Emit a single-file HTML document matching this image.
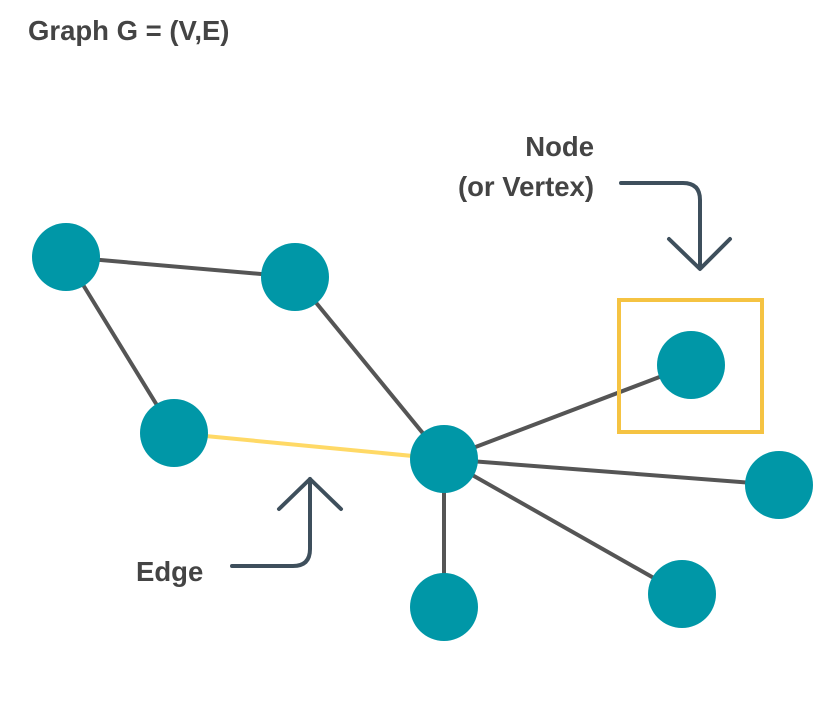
<!DOCTYPE html>
<html><head><style>body{margin:0;background:#fff}</style></head><body>
<svg width="838" height="720" viewBox="0 0 838 720" xmlns="http://www.w3.org/2000/svg" font-family="Liberation Sans, sans-serif">
<rect width="838" height="720" fill="#fff"/>
<text x="28" y="40" font-size="27.5" font-weight="bold" fill="#444">Graph G = (V,E)</text>
<text x="594" y="156" font-size="27.5" font-weight="bold" fill="#444" text-anchor="end">Node</text>
<text x="594" y="196" font-size="27.5" font-weight="bold" fill="#444" text-anchor="end">(or Vertex)</text>
<text x="136" y="581" font-size="27.5" font-weight="bold" fill="#444">Edge</text>
<g stroke="#555" stroke-width="4" fill="none">
<line x1="66" y1="257" x2="295" y2="277"/>
<line x1="66" y1="257" x2="174" y2="433"/>
<line x1="295" y1="277" x2="444" y2="459"/>
<line x1="444" y1="459" x2="691" y2="365"/>
<line x1="444" y1="459" x2="779" y2="485"/>
<line x1="444" y1="459" x2="682" y2="594"/>
<line x1="444" y1="459" x2="444" y2="607"/>
</g>
<line x1="174" y1="433" x2="444" y2="459" stroke="#FFD966" stroke-width="4"/>
<rect x="619" y="300" width="143" height="132" fill="none" stroke="#F5C342" stroke-width="4"/>
<g fill="#0097A7">
<circle cx="66" cy="257" r="34"/>
<circle cx="295" cy="277" r="34"/>
<circle cx="174" cy="433" r="34"/>
<circle cx="444" cy="459" r="34"/>
<circle cx="691" cy="365" r="34"/>
<circle cx="779" cy="485" r="34"/>
<circle cx="682" cy="594" r="34"/>
<circle cx="444" cy="607" r="34"/>
</g>
<g stroke="#3E4F5C" stroke-width="4" fill="none" stroke-linecap="round" stroke-linejoin="round">
<path d="M621 183 H683 Q700 183 700 200 V268"/>
<path d="M669 239 L700 269 L730 239"/>
<path d="M232 566 H293 Q310 566 310 549 V479"/>
<path d="M279 509 L310 479 L341 509"/>
</g>
</svg>
</body></html>
